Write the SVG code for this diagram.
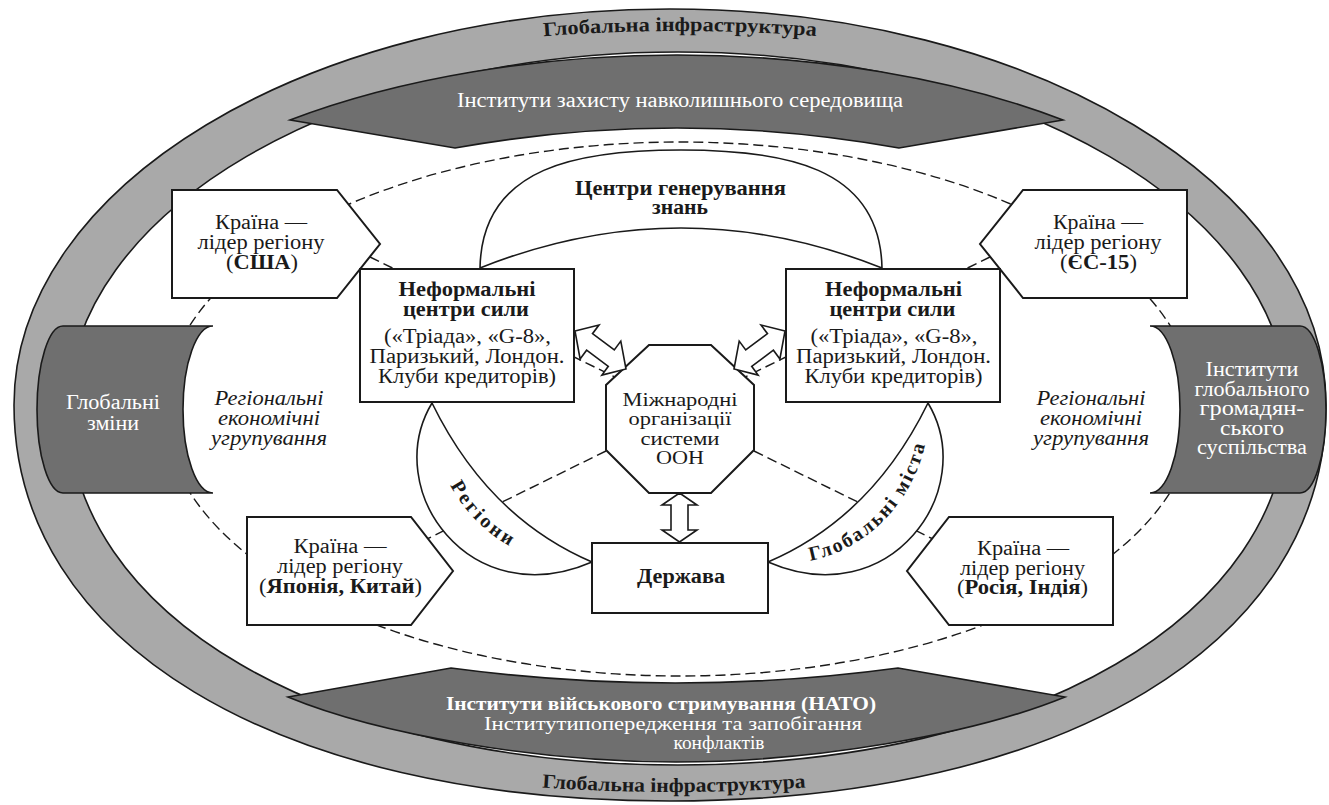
<svg xmlns="http://www.w3.org/2000/svg" width="1329" height="805" viewBox="0 0 1329 805" font-family="'Liberation Serif', 'Times New Roman', serif">
<defs>
<style>
.ring{fill:#a9a9a9;stroke:#1a1a1a;stroke-width:1.6;fill-rule:evenodd}
.dark{fill:#6f6f6f;stroke:#1a1a1a;stroke-width:1.6}
.box{fill:#fff;stroke:#1a1a1a;stroke-width:2}
.arc{fill:#fff;stroke:#1a1a1a;stroke-width:1.6}
.dash{fill:none;stroke:#1a1a1a;stroke-width:1.4;stroke-dasharray:10 5}
text{font-family:"Liberation Serif","Times New Roman",serif;font-size:20px;fill:#1a1a1a;text-anchor:middle}
.w{fill:#fff}
.b{font-weight:bold}
.i{font-style:italic}
.s{font-size:19px}
</style>
<path id="topArc" d="M500,40 Q680,22 860,40"/>
<path id="botArc" d="M500,784 Q674,800 848,784"/>
<path id="regArc" d="M432,403 C424.7,484.7 496.3,573.7 592,562"/>
<path id="cityArc" d="M768,562 C863.7,573.7 935.3,484.7 928,403"/>
</defs>

<g id="ring">
<path class="ring" d="M1326,405 C1326,186.3 1032.3,9 670,9 C307.7,9 14,186.3 14,405 C14,642.6 276.4,801 670,801 C1063.6,801 1326,642.6 1326,405 Z M1288,408.5 C1288,211.6 1014.9,52 678,52 C341.1,52 68,211.6 68,408.5 C68,615.3 324.2,765 678,765 C1031.8,765 1288,615.3 1288,408.5 Z"/>
<text class="b" font-size="21"><textPath href="#topArc" startOffset="50%" textLength="273" lengthAdjust="spacingAndGlyphs">Глобальна інфраструктура</textPath></text>
<text class="b" font-size="21"><textPath href="#botArc" startOffset="50%" textLength="264" lengthAdjust="spacingAndGlyphs">Глобальна інфраструктура</textPath></text>
</g>

<g id="connectors">
<ellipse class="dash" cx="680" cy="409" rx="516" ry="267"/>
<line class="dash" x1="370" y1="257" x2="614.7" y2="376.9"/>
<line class="dash" x1="990" y1="257" x2="745.3" y2="376.9"/>
<line class="dash" x1="606" y1="451" x2="427" y2="539"/>
<line class="dash" x1="754" y1="451" x2="933" y2="539"/>
</g>

<g id="env-institutes">
<path class="dark" d="M290,120 C400,78 540,55 677,55 C814,55 954,78 1063,120 L899,148 Q677,108 455,148 Z"/>
<text class="w" x="680" y="107" textLength="446" lengthAdjust="spacingAndGlyphs">Інститути захисту навколишнього середовища</text>
</g>

<g id="military-institutes">
<path class="dark" d="M288,697 L451,668 Q676,698 898,668 L1065,697 C972,735 812,762 676,762 C540,762 380,735 288,697 Z"/>
<text class="w b s" x="661" y="710" textLength="430" lengthAdjust="spacingAndGlyphs">Інститути військового стримування (НАТО)</text>
<text class="w s" x="673" y="730" textLength="378" lengthAdjust="spacingAndGlyphs">Інститутипопередження та запобігання</text>
<text class="w s" x="719" y="749" textLength="91" lengthAdjust="spacingAndGlyphs">конфлактів</text>
</g>

<g id="global-changes">
<path class="dark" d="M213,326 L63,326 A26,83.5 0 0 0 63,493 L213,493 A30,83.5 0 0 1 213,326 Z"/>
<text class="w" x="113" y="409" textLength="94" lengthAdjust="spacingAndGlyphs">Глобальні</text>
<text class="w" x="113" y="430" textLength="52" lengthAdjust="spacingAndGlyphs">зміни</text>
</g>

<g id="civil-society">
<path class="dark" d="M1150,326 L1300,326 A26,83.5 0 0 1 1300,493 L1150,493 A30,83.5 0 0 0 1150,326 Z"/>
<text class="w" x="1252" y="376" textLength="93" lengthAdjust="spacingAndGlyphs">Інститути</text>
<text class="w" x="1252" y="395.5" textLength="115" lengthAdjust="spacingAndGlyphs">глобального</text>
<text class="w" x="1252" y="415" textLength="105" lengthAdjust="spacingAndGlyphs">громадян-</text>
<text class="w" x="1252" y="434.5" textLength="64" lengthAdjust="spacingAndGlyphs">ського</text>
<text class="w" x="1252" y="454" textLength="110" lengthAdjust="spacingAndGlyphs">суспільства</text>
</g>

<g id="regional-left">
<text class="i" x="269" y="405" textLength="109" lengthAdjust="spacingAndGlyphs">Регіональні</text>
<text class="i" x="269" y="425" textLength="102" lengthAdjust="spacingAndGlyphs">економічні</text>
<text class="i" x="269" y="445" textLength="116" lengthAdjust="spacingAndGlyphs">угрупування</text>
</g>
<g id="regional-right">
<text class="i" x="1091" y="405" textLength="109" lengthAdjust="spacingAndGlyphs">Регіональні</text>
<text class="i" x="1091" y="425" textLength="102" lengthAdjust="spacingAndGlyphs">економічні</text>
<text class="i" x="1091" y="445" textLength="116" lengthAdjust="spacingAndGlyphs">угрупування</text>
</g>

<g id="knowledge-centers">
<path class="arc" d="M480,268 C482,165 581,150 681,150 C781,150 880,165 882,268 Q681,188 480,268 Z"/>
<text class="b" x="680.5" y="195" textLength="211" lengthAdjust="spacingAndGlyphs">Центри генерування</text>
<text class="b" x="680" y="214" textLength="56" lengthAdjust="spacingAndGlyphs">знань</text>
</g>

<g id="regions">
<path class="arc" d="M432,403 C380,490 470,615 592,562 Q488,517.5 432,403 Z"/>
<text class="b" font-size="21"><textPath href="#regArc" startOffset="50%" dy="7" textLength="86" lengthAdjust="spacing">Регіони</textPath></text>
</g>

<g id="global-cities">
<path class="arc" d="M928,403 C980,490 890,615 768,562 Q872,517.5 928,403 Z"/>
<text class="b" font-size="21"><textPath href="#cityArc" startOffset="50%" dy="8" textLength="172" lengthAdjust="spacing">Глобальні міста</textPath></text>
</g>

<g id="leader-usa">
<path class="box" d="M172,190 L337,190 L380,244 L337,298 L172,298 Z"/>
<text x="261" y="229" textLength="92" lengthAdjust="spacingAndGlyphs">Країна —</text>
<text x="261" y="249" textLength="127" lengthAdjust="spacingAndGlyphs">лідер регіону</text>
<text x="262" y="269" textLength="72" lengthAdjust="spacingAndGlyphs">(<tspan class="b">США</tspan>)</text>
</g>

<g id="leader-eu">
<path class="box" d="M1187,190 L1023,190 L980,244 L1023,298 L1187,298 Z"/>
<text x="1098" y="229" textLength="90" lengthAdjust="spacingAndGlyphs">Країна —</text>
<text x="1098" y="249" textLength="127" lengthAdjust="spacingAndGlyphs">лідер регіону</text>
<text x="1098.5" y="269" textLength="77" lengthAdjust="spacingAndGlyphs">(<tspan class="b">ЄС-15</tspan>)</text>
</g>

<g id="leader-japan">
<path class="box" d="M247,517 L411,517 L453,571 L411,625 L247,625 Z"/>
<text x="340" y="553" textLength="93" lengthAdjust="spacingAndGlyphs">Країна —</text>
<text x="340" y="573" textLength="126" lengthAdjust="spacingAndGlyphs">лідер регіону</text>
<text x="340.5" y="593" textLength="163" lengthAdjust="spacingAndGlyphs">(<tspan class="b">Японія, Китай</tspan>)</text>
</g>

<g id="leader-russia">
<path class="box" d="M1113,517 L949,517 L907,571 L949,625 L1113,625 Z"/>
<text x="1023" y="555" textLength="92" lengthAdjust="spacingAndGlyphs">Країна —</text>
<text x="1022.5" y="575" textLength="125" lengthAdjust="spacingAndGlyphs">лідер регіону</text>
<text x="1022.5" y="594" textLength="131" lengthAdjust="spacingAndGlyphs">(<tspan class="b">Росія, Індія</tspan>)</text>
</g>

<g id="power-left">
<rect class="box" x="360" y="269" width="214" height="133"/>
<text class="b" x="467" y="296" textLength="137" lengthAdjust="spacingAndGlyphs">Неформальні</text>
<text class="b" x="466" y="316" textLength="126" lengthAdjust="spacingAndGlyphs">центри сили</text>
<text x="467.5" y="343" textLength="167" lengthAdjust="spacingAndGlyphs">(«Тріада», «G-8»,</text>
<text x="467" y="363" textLength="195" lengthAdjust="spacingAndGlyphs">Паризький, Лондон.</text>
<text x="467" y="383" textLength="178" lengthAdjust="spacingAndGlyphs">Клуби кредиторів)</text>
</g>

<g id="power-right">
<rect class="box" x="786" y="269" width="214" height="133"/>
<text class="b" x="893.5" y="296" textLength="137" lengthAdjust="spacingAndGlyphs">Неформальні</text>
<text class="b" x="892.5" y="316" textLength="126" lengthAdjust="spacingAndGlyphs">центри сили</text>
<text x="894" y="343" textLength="167" lengthAdjust="spacingAndGlyphs">(«Тріада», «G-8»,</text>
<text x="893.5" y="363" textLength="195" lengthAdjust="spacingAndGlyphs">Паризький, Лондон.</text>
<text x="893.5" y="383" textLength="178" lengthAdjust="spacingAndGlyphs">Клуби кредиторів)</text>
</g>

<g id="un">
<path class="box" d="M649,345 L711,345 L754,385 L754,450 L711,493 L649,493 L606,450 L606,385 Z"/>
<text class="s" x="680" y="405.5" textLength="115" lengthAdjust="spacingAndGlyphs">Міжнародні</text>
<text class="s" x="680" y="425" textLength="103" lengthAdjust="spacingAndGlyphs">організації</text>
<text class="s" x="680" y="444.5" textLength="79" lengthAdjust="spacingAndGlyphs">системи</text>
<text class="s" x="680" y="464" textLength="48" lengthAdjust="spacingAndGlyphs">ООН</text>
</g>

<g id="state">
<rect class="box" x="592" y="543" width="176" height="70"/>
<text class="b" x="681" y="583" textLength="88" lengthAdjust="spacingAndGlyphs">Держава</text>
</g>

<g id="arrows">
<path class="arc" d="M575,331 L599,325 L592.5,333.7 L614.3,349.9 L620.8,341.1 L626,369 L601.9,375.1 L608.3,366.3 L586.6,350.2 L580.1,359 Z"/>
<path class="arc" d="M785,331 L761,325 L767.5,333.7 L745.7,349.9 L739.2,341.1 L734,369 L758.1,375.1 L751.7,366.3 L773.4,350.2 L779.9,359 Z"/>
<path class="arc" d="M679.5,493 L697,505 L688,505 L688,530 L697,530 L679.5,542 L662,530 L671,530 L671,505 L662,505 Z"/>
</g>
</svg>
